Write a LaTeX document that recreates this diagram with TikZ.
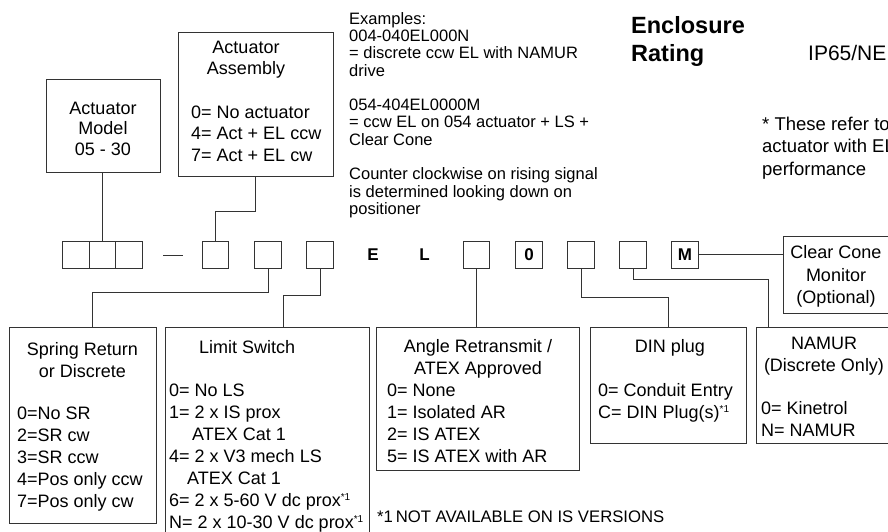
\documentclass[tikz,border=0pt]{standalone}
\usepackage{fontspec}
\setmainfont{Liberation Sans}
\usepackage{tikz}
\usetikzlibrary{positioning, calc}
\tikzstyle{cell} = [rectangle, draw=black!80, line width=1pt, minimum width=26.5pt, minimum height=27pt,
                    inner sep=0pt, font=\fontsize{17}{17}\selectfont\bfseries]
\tikzstyle{link} = [line width=1pt, draw=black!80]
\newcommand{\fnmark}{\raisebox{6pt}{\fontsize{10}{10}\selectfont *1}}

\begin{document}
\begin{tikzpicture}[x=1pt, y=-1pt,
    infobox/.style={rectangle, draw=black!80, line width=1pt, inner sep=0pt},
    boxtitle/.style={inner sep=0pt, anchor=north, align=center, font=\fontsize{18}{21.5}\selectfont},
    boxlist/.style={inner sep=0pt, anchor=north west, align=left, font=\fontsize{18}{22}\selectfont},
    notetext/.style={inner sep=0pt, anchor=north west, align=left, font=\fontsize{16.5}{17.3}\selectfont},
    letter/.style={inner sep=0pt, font=\fontsize{17}{17}\selectfont\bfseries},
]
\useasboundingbox (0,0) rectangle (888,531);
\clip (0,0) rectangle (888,531);

% Code cells
\node[cell] (a1) at (76,254.5) {};
\node[cell] (a2) at (102.5,254.5) {};
\node[cell] (a3) at (129,254.5) {};
\draw[line width=0.8pt, black!80] (163,255) -- (183,255);
\node[cell] (b1) at (215.5,254.5) {};
\node[cell] (b2) at (268,254.5) {};
\node[cell] (b3) at (320,254.5) {};
\node[letter] (le) at (373,254.5) {E};
\node[letter] (ll) at (424.5,254.5) {L};
\node[cell] (c1) at (476.5,254.5) {};
\node[cell] (c2) at (529,254.5) {0};
\node[cell] (c3) at (581,254.5) {};
\node[cell] (c4) at (633,254.5) {};
\node[cell] (c5) at (685,254.5) {M};

% Upper boxes
\node[infobox, minimum width=114pt, minimum height=93pt] (model) at (103,125.5) {};
\node[boxtitle, font=\fontsize{18}{20.5}\selectfont] (modelT) at (103,101.5) {Actuator\\Model\\05 - 30};

\node[infobox, minimum width=155pt, minimum height=144pt] (assy) at (255.5,104) {};
\node[boxtitle] (assyT) at (246,40.5) {Actuator\\Assembly};
\node[boxlist, font=\fontsize{18}{21.5}\selectfont] (assyL) at (191,105.5) {0= No actuator\\4= Act + EL ccw\\7= Act + EL cw};

\node[infobox, minimum width=108pt, minimum height=77pt] (cone) at (837,274.5) {};
\node[boxtitle, font=\fontsize{18}{22.5}\selectfont] (coneT) at (836,245.5) {Clear Cone\\Monitor\\(Optional)};

% Lower boxes
\node[infobox, minimum width=147pt, minimum height=196pt] (spring) at (82.5,425) {};
\node[boxtitle] (springT) at (82.5,342.5) {Spring Return\\or Discrete};
\node[boxlist] (springL) at (17,406.5) {0=No SR\\2=SR cw\\3=SR ccw\\4=Pos only ccw\\7=Pos only cw};

\node[infobox, minimum width=204pt, minimum height=208pt] (limit) at (267,431) {};
\node[boxlist] (limitT) at (199,340) {Limit Switch};
\node[boxlist] (limitL) at (169,383.5) {0= No LS\\1= 2 x IS prox\\\hspace*{23pt}ATEX Cat 1\\4= 2 x V3 mech LS\\\hspace*{18pt}ATEX Cat 1\\6= 2 x 5-60 V dc prox\fnmark\\N= 2 x 10-30 V dc prox\fnmark};

\node[infobox, minimum width=203pt, minimum height=143pt] (angle) at (477.5,398.5) {};
\node[boxtitle, font=\fontsize{18}{22}\selectfont] (angleT) at (478,339.5) {Angle Retransmit /\\ATEX Approved};
\node[boxlist] (angleL) at (387,383.5) {0= None\\1= Isolated AR\\2= IS ATEX\\5= IS ATEX with AR};

\node[infobox, minimum width=156pt, minimum height=116pt] (din) at (668,385) {};
\node[boxtitle] (dinT) at (670,339.5) {DIN plug};
\node[boxlist, font=\fontsize{18}{21.5}\selectfont] (dinL) at (598,383.5) {0= Conduit Entry\\C= DIN Plug(s)\fnmark};

\node[infobox, minimum width=142pt, minimum height=116pt] (namur) at (827,385) {};
\node[boxtitle, font=\fontsize{18}{22}\selectfont] (namurT) at (824,336.5) {NAMUR\\(Discrete Only)};
\node[boxlist] (namurL) at (761,401.5) {0= Kinetrol\\N= NAMUR};

% Connectors
\draw[link] (a2.north) -- (a2.north |- model.south);
\draw[link] (assy.south) -- ++(0,35) -| (b1.north);
\draw[link] (b2.south) -- ++(0,24) -| ([xshift=9.5pt]spring.north);
\draw[link] (b3.south) -- ++(0,27) -| ([xshift=16pt]limit.north);
\draw[link] (c1.south) -- (c1.south |- angle.north);
\draw[link] (c3.south) -- ++(0,29) -| (din.north);
\draw[link] (c4.south) -- ++(0,11) -| ([xshift=-59pt]namur.north);
\draw[link] (c5.east) -- (c5.east -| cone.west);

% Notes
\node[notetext] (examples) at (349,12) {Examples:\\004-040EL000N\\= discrete ccw EL with NAMUR\\drive\\[17.3pt]054-404EL0000M\\= ccw EL on 054 actuator + LS +\\Clear Cone\\[17.3pt]Counter clockwise on rising signal\\is determined looking down on\\positioner};
\node[inner sep=0pt, anchor=north west, align=left, font=\fontsize{23.5}{28}\selectfont\bfseries] (encl) at (631,16.6) {Enclosure\\Rating};
\node[inner sep=0pt, anchor=north west, font=\fontsize{21}{21}\selectfont] (rating) at (808,45.5) {IP65/NE};
\node[inner sep=0pt, anchor=north west, align=left, font=\fontsize{18.5}{22.5}\selectfont] (perf) at (762,116.4) {* These refer to\\actuator with EL\\performance};
\node[inner sep=0pt, anchor=north west, font=\fontsize{16.7}{16.7}\selectfont] (footnote) at (377,511) {*1\,NOT AVAILABLE ON IS VERSIONS};

\end{tikzpicture}
\end{document}
